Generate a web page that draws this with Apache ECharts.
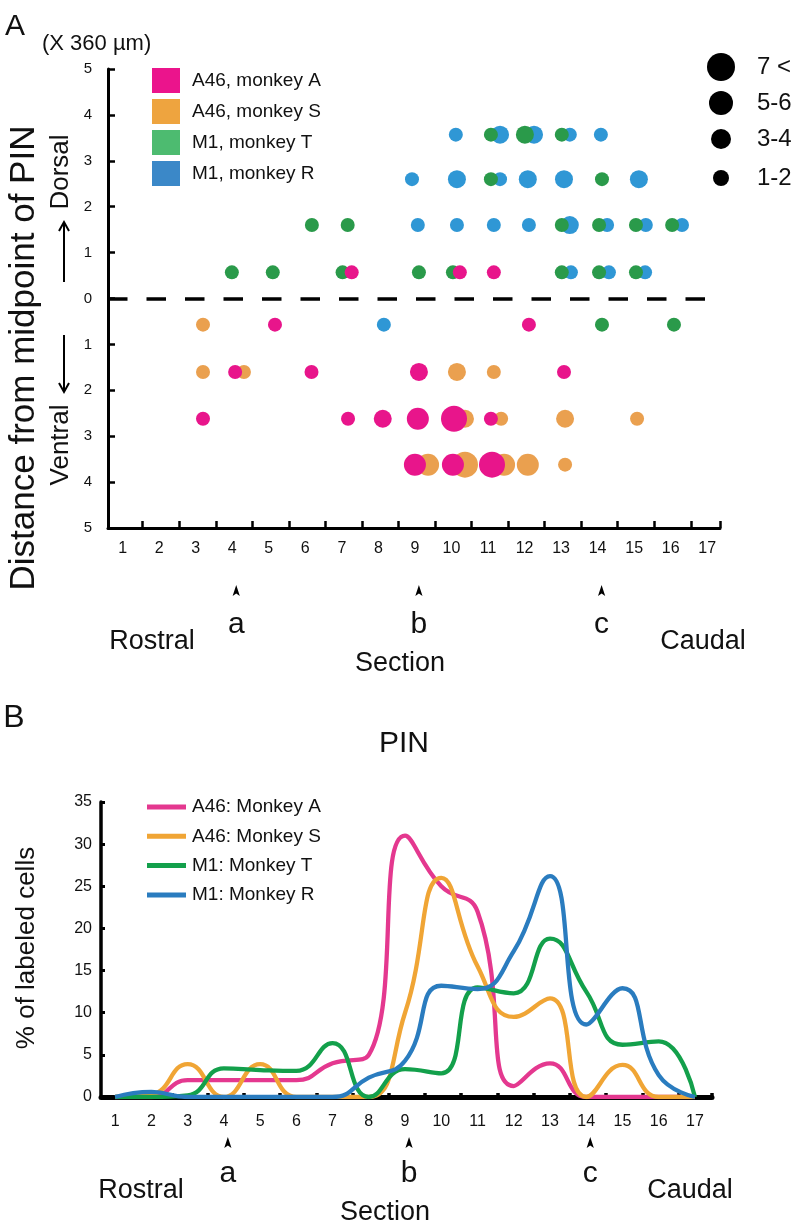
<!DOCTYPE html>
<html><head><meta charset="utf-8">
<script src="https://cdn.jsdelivr.net/npm/echarts@6/dist/echarts.min.js"></script>
<style>html,body{margin:0;padding:0;background:#fff}#c{width:799px;height:1231px}</style>
</head><body><div id="c"></div>
<script>
// ---------- data ----------
const sections = [1,2,3,4,5,6,7,8,9,10,11,12,13,14,15,16,17];
const yTicksA = [-5,-4,-3,-2,-1,0,1,2,3,4,5];
const yTicksB = [0,5,10,15,20,25,30,35];
const sizeLegendLabels = ['7 <','5-6','3-4','1-2'];
const namesA = ['A46, monkey A','A46, monkey S','M1, monkey T','M1, monkey R'];
const namesB = ['A46: Monkey A','A46: Monkey S','M1: Monkey T','M1: Monkey R'];
const markerSections = [4,9,14];
const markerLabels = ['a','b','c'];

// Panel A: [section position, distance from PIN midpoint (x360 µm; + dorsal, - ventral), size class 1(1-2) .. 4(7<)]
const dotsMonkeyA = [
  [7.27,0.57,1],[10.23,0.57,1],[11.16,0.57,1],
  [5.17,-0.57,1],[12.12,-0.57,1],
  [4.08,-1.6,1],[6.17,-1.6,1],[9.11,-1.6,2],[13.08,-1.6,1],
  [3.2,-2.62,1],[7.17,-2.62,1],[8.12,-2.62,2],[9.08,-2.62,3],[10.07,-2.62,4],[11.08,-2.62,1],
  [9.0,-3.62,3],[10.04,-3.62,3],[11.11,-3.62,4]
];
const dotsMonkeyS = [
  [3.2,-0.57,1],
  [3.2,-1.6,1],[4.32,-1.6,1],[10.15,-1.6,2],[11.16,-1.6,1],
  [10.37,-2.62,2],[11.36,-2.62,1],[13.11,-2.62,2],[15.08,-2.62,1],
  [9.36,-3.62,3],[10.37,-3.62,4],[11.44,-3.62,3],[12.09,-3.62,3],[13.11,-3.62,1]
];
const dotsMonkeyT = [
  [3.99,0.57,1],[5.11,0.57,1],[7.02,0.57,1],[9.11,0.57,1],[10.04,0.57,1],[13.02,0.57,1],[14.04,0.57,1],[15.05,0.57,1],
  [6.18,1.6,1],[7.16,1.6,1],[13.02,1.6,1],[14.04,1.6,1],[15.05,1.6,1],[16.04,1.6,1],
  [11.08,2.6,1],[14.12,2.6,1],
  [11.08,3.57,1],[12.01,3.57,2],[13.02,3.57,1],
  [14.12,-0.57,1],[16.09,-0.57,1]
];
const dotsMonkeyR = [
  [10.12,3.57,1],[11.33,3.57,2],[12.26,3.57,2],[13.24,3.57,1],[14.09,3.57,1],
  [8.92,2.6,1],[10.15,2.6,2],[11.33,2.6,1],[12.09,2.6,2],[13.08,2.6,2],[15.13,2.6,2],
  [9.08,1.6,1],[10.15,1.6,1],[11.16,1.6,1],[12.12,1.6,1],[13.24,1.6,2],[14.26,1.6,1],[15.32,1.6,1],[16.31,1.6,1],
  [13.27,0.57,1],[14.31,0.57,1],[15.30,0.57,1],
  [8.15,-0.57,1]
];

// Panel B: % of labeled cells per section 1..17
const pctMonkeyA = [0,0,2,2,2,2,4,5,31,25,22,1.3,4,0,0,0,0];
const pctMonkeyS = [0,0.3,3.9,0,3.9,0,0,0,10,26,15.5,9.5,11.7,0,3.8,0,0];
const pctMonkeyT = [0,0,0.2,3.4,3.2,3.1,6.4,0,3.3,2.8,13,12.3,18.8,12.5,6.2,6.6,0];
const pctMonkeyR = [0,0.6,0,0,0,0,0,2.3,4.3,13.2,12.8,17.3,26.2,8.6,12.9,2.6,0];

// ---------- styling ----------
const FONT = 'Liberation Sans, Arial, sans-serif';
const dotColors = {A:'#e8158b', S:'#eaa04f', T:'#2a9a4a', R:'#2f97d5'};
const legendColors = {A:'#eb148c', S:'#eea43f', T:'#4dbb70', R:'#3b88c8'};
const lineColors = {A:'#e4388f', S:'#f0a535', T:'#13a04b', R:'#2a7cbf'};
const dotDiam = [14,18,22,26];
const sizeLegendDiam = [28,24,20,16];

const chart = echarts.init(document.getElementById('c'), null, {renderer:'canvas'});

const XA = {min:0.6, max:17.35};
const XB = {min:0.61, max:17.47};

function xAxisCfg(grid, range, lineW, tickLen, tickW, margin) {
  return {
    type:'value', gridIndex:grid, min:range.min, max:range.max,
    axisLine:{show:true, onZero:false, lineStyle:{color:'#000', width:lineW}},
    axisTick:{show:true, inside:true, length:tickLen, lineStyle:{color:'#000', width:tickW},
      customValues: sections.slice(0,16).map(s => s + 0.55).concat([range.max])},
    axisLabel:{customValues: sections, formatter: v => String(v), margin:margin,
      fontFamily:FONT, fontSize:16, color:'#111'},
    splitLine:{show:false}
  };
}

function scatterSeries(name, data, color) {
  return {
    type:'scatter', name:name, xAxisIndex:0, yAxisIndex:0, data:data,
    symbol:'circle', symbolSize: v => dotDiam[v[2]-1],
    itemStyle:{color:color, opacity:1}, emphasis:{disabled:true}
  };
}
function lineSeries(name, vals, color) {
  return {
    type:'line', name:name, xAxisIndex:1, yAxisIndex:1,
    data: sections.map((s,i) => [s, vals[i]]),
    smooth:0.5, showSymbol:false, symbol:'none',
    lineStyle:{color:color, width:4.3}, itemStyle:{color:color},
    emphasis:{disabled:true}
  };
}

const scatterR = scatterSeries(namesA[3], dotsMonkeyR, dotColors.R);
scatterR.markLine = {
  silent:true, symbol:'none', label:{show:false},
  lineStyle:{color:'#000', width:3.5, type:[19.5,19]},
  data:[[{coord:[XA.min,0]},{coord:[16.97,0]}]]
};

const option = {
  animation:false,
  backgroundColor:'#fff',
  textStyle:{fontFamily:FONT},
  grid:[
    {left:108, top:69, width:612, height:459},
    {left:101, top:802, width:611, height:295}
  ],
  xAxis:[
    xAxisCfg(0, XA, 3, 7, 2.5, 13),
    xAxisCfg(1, XB, 5, 4, 3.5, 17)
  ],
  yAxis:[
    {type:'value', gridIndex:0, min:-5, max:5, interval:1,
      axisLine:{show:true, onZero:false, lineStyle:{color:'#000', width:3}},
      axisTick:{show:true, inside:true, length:7, lineStyle:{color:'#000', width:2.5}},
      axisLabel:{formatter: v => String(Math.abs(v)), margin:16, fontFamily:FONT, fontSize:15, color:'#111'},
      splitLine:{show:false}},
    {type:'value', gridIndex:1, min:0, max:35, interval:5,
      axisLine:{show:true, onZero:false, lineStyle:{color:'#000', width:3.5}},
      axisTick:{show:true, inside:true, length:4, lineStyle:{color:'#000', width:3}},
      axisLabel:{margin:9, fontFamily:FONT, fontSize:16, color:'#111'},
      splitLine:{show:false}}
  ],
  legend:[
    {orient:'vertical', left:147, top:63, itemWidth:28, itemHeight:25, itemGap:6, icon:'rect',
      selectedMode:false,
      textStyle:{fontFamily:FONT, fontSize:19, color:'#111', padding:[0,0,0,7]},
      data:[
        {name:namesA[0], itemStyle:{color:legendColors.A}},
        {name:namesA[1], itemStyle:{color:legendColors.S}},
        {name:namesA[2], itemStyle:{color:legendColors.T}},
        {name:namesA[3], itemStyle:{color:legendColors.R}}
      ]},
    {orient:'vertical', left:142, top:792, itemWidth:39, itemHeight:5, itemGap:9.3, icon:'rect',
      selectedMode:false,
      textStyle:{fontFamily:FONT, fontSize:19, color:'#111', lineHeight:20, padding:[0,0,0,1]},
      data:namesB}
  ],
  series:[
    scatterR,
    scatterSeries(namesA[2], dotsMonkeyT, dotColors.T),
    scatterSeries(namesA[1], dotsMonkeyS, dotColors.S),
    scatterSeries(namesA[0], dotsMonkeyA, dotColors.A),
    lineSeries(namesB[0], pctMonkeyA, lineColors.A),
    lineSeries(namesB[1], pctMonkeyS, lineColors.S),
    lineSeries(namesB[2], pctMonkeyT, lineColors.T),
    lineSeries(namesB[3], pctMonkeyR, lineColors.R)
  ]
};
chart.setOption(option);

// ---------- annotations ----------
function txt(text, x, y, size, opts) {
  opts = opts || {};
  return {type:'text', x:x, y:y, rotation:opts.rot || 0, silent:true,
    style:{text:text, font: size + 'px ' + FONT, fill:'#111',
      textAlign:opts.align || 'center', textVerticalAlign:'middle'}};
}
function arrowHead(cx, cy) {
  return {type:'polygon', silent:true,
    shape:{points:[[cx,cy-6],[cx+3.6,cy+5],[cx,cy+2.5],[cx-3.6,cy+5]]},
    style:{fill:'#000'}};
}
function longArrow(x, yTail, yHead) {
  const dir = yHead < yTail ? 1 : -1;
  return [
    {type:'line', silent:true, shape:{x1:x, y1:yTail, x2:x, y2:yHead}, style:{stroke:'#000', lineWidth:2}},
    {type:'polyline', silent:true, shape:{points:[[x-5,yHead+dir*9],[x,yHead],[x+5,yHead+dir*9]]},
      style:{stroke:'#000', lineWidth:2, fill:null}}
  ];
}

const g = [];
g.push(txt('A', 15, 27, 30));
g.push(txt('(X 360 µm)', 42, 44, 22, {align:'left'}));
g.push(txt('Distance from midpoint of PIN', 24, 358, 35, {rot:Math.PI/2}));
g.push(txt('Dorsal', 61, 172, 26, {rot:Math.PI/2}));
g.push(...longArrow(64, 282, 222));
g.push(txt('Ventral', 61, 445, 26, {rot:Math.PI/2}));
g.push(...longArrow(64, 335, 392));

// size legend
const sizeRowsY = [67,103,139,178];
sizeLegendLabels.forEach((lab,i) => {
  g.push({type:'circle', silent:true, shape:{cx:721, cy:sizeRowsY[i], r:sizeLegendDiam[i]/2}, style:{fill:'#000'}});
  g.push(txt(lab, 757, sizeRowsY[i], 24, {align:'left'}));
});

// bottom annotations panel A (grid 0) and B (grid 1)
function bottomAnn(axisIdx, yArrow, yLetter, yRC, ySection, rostralX, caudalX, sectionX) {
  markerSections.forEach((s,i) => {
    const px = chart.convertToPixel({xAxisIndex:axisIdx}, s) + 4;
    g.push(arrowHead(px, yArrow));
    g.push(txt(markerLabels[i], px, yLetter, 30));
  });
  g.push(txt('Rostral', rostralX, yRC, 27));
  g.push(txt('Caudal', caudalX, yRC, 27));
  g.push(txt('Section', sectionX, ySection, 27));
}
bottomAnn(0, 591, 625, 642, 664, 152, 703, 400);
bottomAnn(1, 1143, 1174, 1191, 1213, 141, 690, 385);

g.push(txt('B', 14, 718, 32));
g.push(txt('PIN', 404, 744, 30));
g.push(txt('% of labeled cells', 27, 948, 26, {rot:Math.PI/2}));

chart.setOption({graphic:g});
</script>
</body></html>
